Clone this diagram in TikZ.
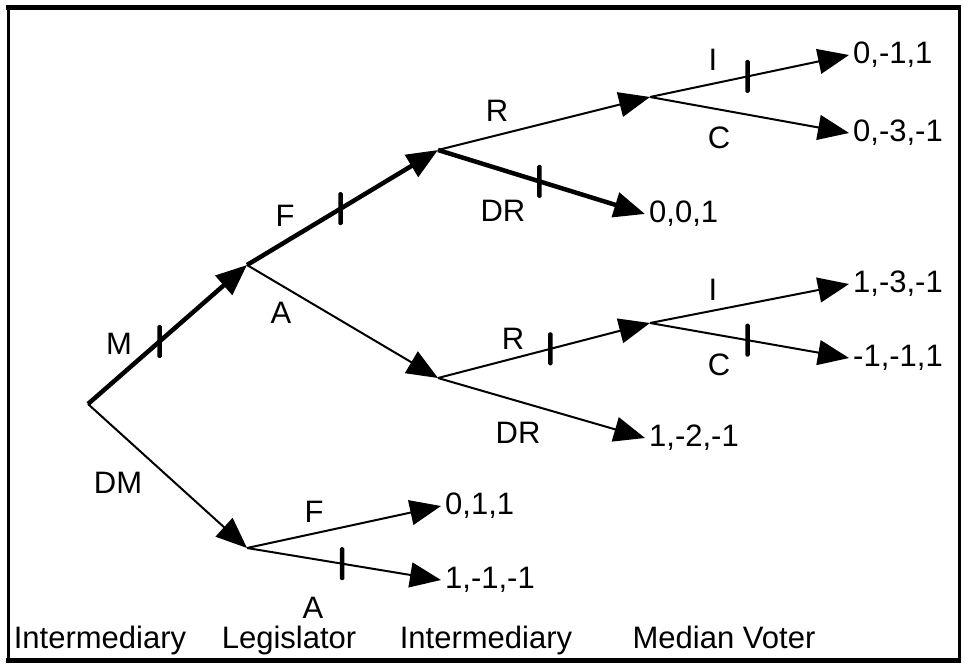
\documentclass[tikz,border=0pt]{standalone}
\usepackage{fontspec}
\setmainfont{Liberation Sans}
\usetikzlibrary{arrows.meta}
\begin{document}
\begin{tikzpicture}[x=1pt,y=-1pt,
  move/.style={line width=2pt, -{Triangle[length=31pt,width=25pt]}},
  heavy/.style={move, line width=4.5pt},
  tickmark/.style={fill=black, inner sep=0pt, minimum width=4.5pt, minimum height=33pt, rounded corners=1.5pt},
  lbl/.style={font=\fontsize{31}{36}\selectfont, inner sep=0pt, anchor=base},
  pay/.style={font=\fontsize{31}{36}\selectfont, inner sep=4pt, anchor=west},
]
\useasboundingbox (0,0) rectangle (964,664);

% frame
\draw[line width=3pt] (8,7) -- (8,660);
\draw[line width=3pt] (959,7) -- (959,660);
\draw[line width=5pt] (6,7) -- (961,7);
\draw[line width=5pt] (6,660) -- (961,660);

% decision nodes
\coordinate (root) at (88,404);
\coordinate (leg1) at (247,265);
\coordinate (leg2) at (247,548);
\coordinate (int1) at (438,150);
\coordinate (int2) at (438,378);
\coordinate (mv1) at (650,97);
\coordinate (mv2) at (650,323);

% payoffs
\node[pay] (p1) at (849,55) {0,-1,1};
\node[pay] (p2) at (849,133) {0,-3,-1};
\node[pay] (p3) at (645,214) {0,0,1};
\node[pay] (p4) at (849,284) {1,-3,-1};
\node[pay] (p5) at (849,358) {-1,-1,1};
\node[pay] (p6) at (645,438) {1,-2,-1};
\node[pay] (p7) at (441,506) {0,1,1};
\node[pay] (p8) at (441,580) {1,-1,-1};

% moves
\draw[heavy] (root) -- node[pos=.45, tickmark] (k1) {} (leg1);
\draw[heavy] (leg1) -- node[pos=.49, tickmark] (k2) {} (int1);
\draw[move] (leg1) -- (int2);
\draw[move] (int1) -- (mv1);
\draw[heavy] (int1) -- node[pos=.49, tickmark] (k3) {} (p3.west);
\draw[move] (mv1) -- node[pos=.49, tickmark] (k4) {} (p1.west);
\draw[move] (mv1) -- (p2.west);
\draw[move] (int2) -- node[pos=.53, tickmark] (k5) {} (mv2);
\draw[move] (int2) -- (p6.west);
\draw[move] (mv2) -- (p4.west);
\draw[move] (mv2) -- node[pos=.49, tickmark] (k6) {} (p5.west);
\draw[move] (root) -- (leg2);
\draw[move] (leg2) -- (p7.west);
\draw[move] (leg2) -- node[pos=.49, tickmark] (k7) {} (p8.west);

% move labels
\node[lbl] (lM) at (119,354) {M};
\node[lbl] (lF1) at (285,226) {F};
\node[lbl] (lA1) at (281,323) {A};
\node[lbl] (lR1) at (497,121) {R};
\node[lbl] (lDR1) at (503,221) {DR};
\node[lbl] (lI1) at (713,70) {I};
\node[lbl] (lC1) at (719,148) {C};
\node[lbl] (lR2) at (513,349) {R};
\node[lbl] (lDR2) at (518,443) {DR};
\node[lbl] (lI2) at (713,300) {I};
\node[lbl] (lC2) at (719,375) {C};
\node[lbl] (lDM) at (118,493) {DM};
\node[lbl] (lF2) at (314,522) {F};
\node[lbl] (lA2) at (313,618) {A};

% players
\node[lbl] (s1) at (100,648) {Intermediary};
\node[lbl] (s2) at (289,648) {Legislator};
\node[lbl] (s3) at (486,648) {Intermediary};
\node[lbl] (s4) at (724,648) {Median Voter};
\end{tikzpicture}
\end{document}
